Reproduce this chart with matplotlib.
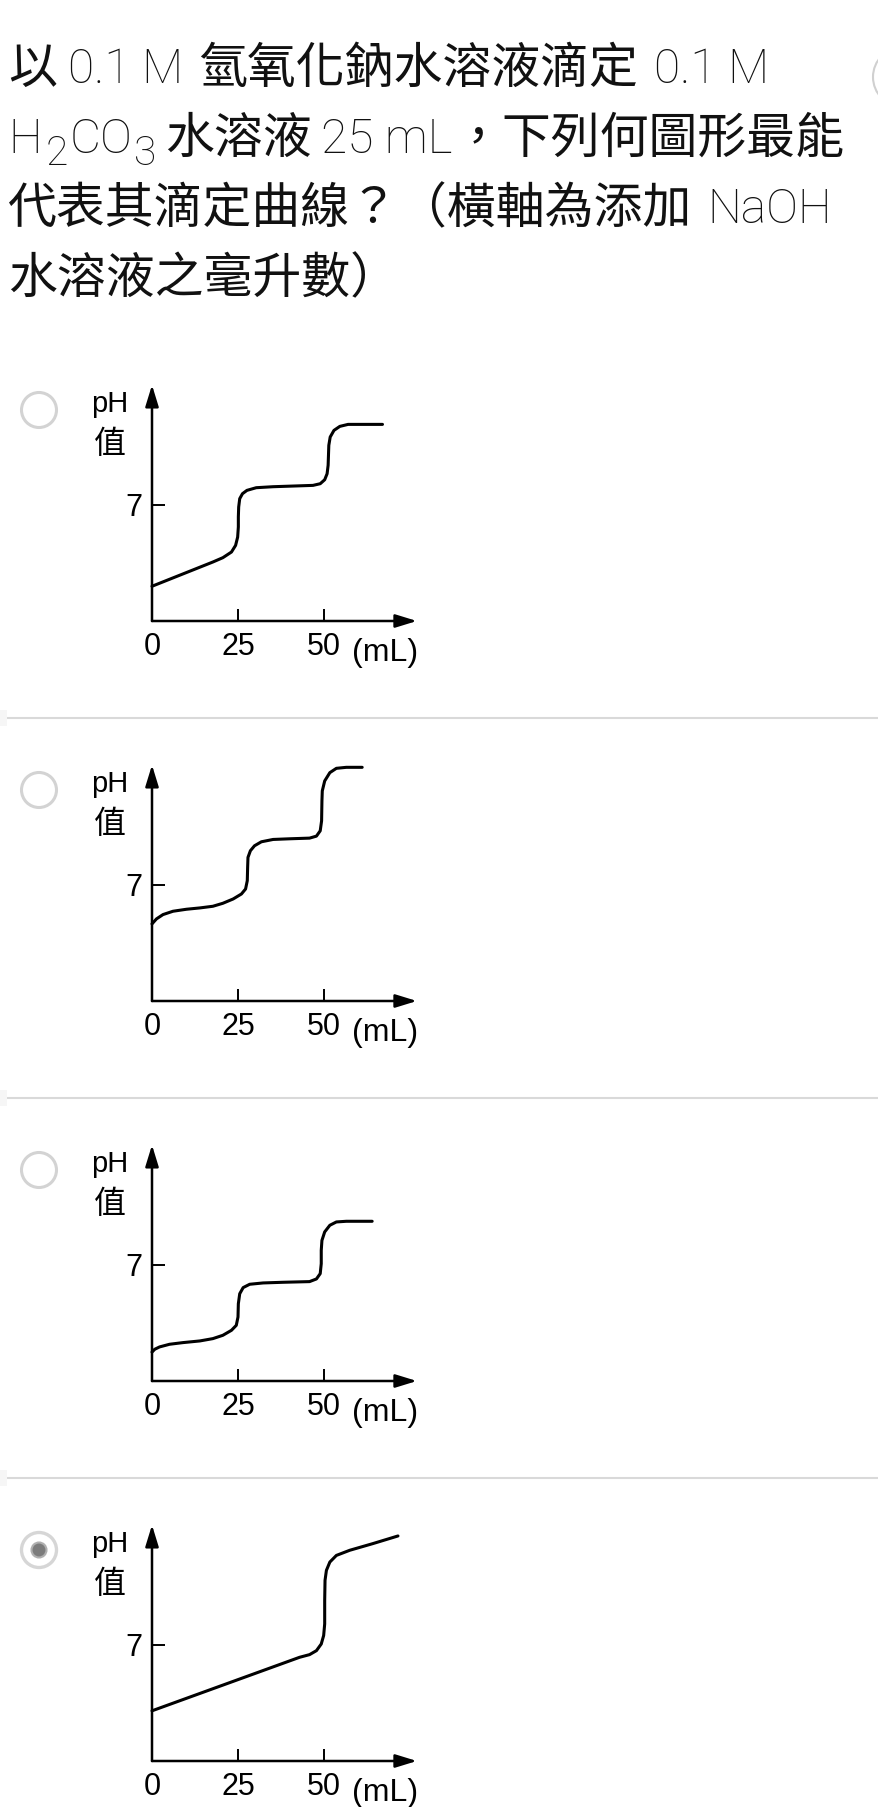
import matplotlib
matplotlib.use('Agg')
import matplotlib.pyplot as plt
from matplotlib.patches import Circle, Rectangle

plt.rcParams['font.family'] = ['Liberation Sans', 'Noto Sans CJK TC', 'DejaVu Sans']

W, H = 879, 1807

# 题干文字：(文字, 类型) 分段，'c'=中文，'l'=拉丁，'s'=下标；数字为段间空隙(px)
TITLE_RUNS = [
    [('以', 'c'), 11, ('0.1 M', 'l'), 15, ('氫氧化鈉水溶液滴定', 'c'), 16, ('0.1 M', 'l')],
    [('H', 'l'), 4, ('2', 's'), 2, ('CO', 'l'), 1, ('3', 's'), 9, ('水溶液', 'c'), 9,
     ('25 mL', 'l'), 2, ('，下列何圖形最能', 'c')],
    [('代表其滴定曲線？（橫軸為添加', 'c'), 15, ('NaOH', 'l')],
    [('水溶液之毫升數）', 'c')],
]
TITLE_BASELINES = [83, 153, 223, 293]

# 四个选项的滴定曲线 (mL, pH)
VOL_A = [0.0, 17.7, 20.6, 23.1, 24.3, 24.9, 25.1, 25.1, 25.2, 25.5, 26.3, 27.6,
         30.3, 35.2, 41.0, 46.8, 48.9, 50.2, 50.9, 51.2, 51.3, 51.4, 51.8, 52.9,
         54.6, 57.0, 60.4, 67.0]
PH_A = [2.09, 3.55, 3.81, 4.15, 4.55, 5.05, 5.66, 6.26, 6.86, 7.36, 7.66, 7.86,
        8.02, 8.08, 8.12, 8.16, 8.26, 8.50, 8.86, 9.37, 9.97, 10.57, 11.07, 11.47,
        11.71, 11.83, 11.83, 11.83]

VOL_B = [0.0, 1.3, 3.2, 6.1, 10.0, 13.9, 17.7, 20.6, 23.6, 26.0, 27.2, 27.7,
         27.8, 27.9, 28.6, 29.8, 31.8, 35.2, 40.0, 45.8, 47.8, 48.9, 49.3, 49.4,
         49.5, 50.2, 51.7, 53.6, 56.5, 61.1]
PH_B = [4.64, 4.94, 5.20, 5.40, 5.52, 5.60, 5.70, 5.88, 6.14, 6.44, 6.74, 7.24,
        8.04, 8.64, 9.04, 9.34, 9.58, 9.72, 9.76, 9.80, 9.92, 10.24, 10.84, 12.04,
        12.64, 13.24, 13.74, 14.00, 14.06, 14.06]

VOL_C = [0.0, 0.8, 2.2, 5.1, 9.0, 13.9, 17.7, 20.6, 23.1, 24.5, 25.0, 25.1,
         25.5, 26.5, 28.4, 32.3, 38.1, 45.8, 47.8, 48.9, 49.2, 49.2, 49.4, 50.2,
         51.7, 53.6, 56.5, 64.0]
PH_C = [1.74, 1.91, 2.05, 2.21, 2.31, 2.41, 2.55, 2.75, 3.05, 3.35, 3.85, 4.65,
        5.25, 5.62, 5.82, 5.90, 5.94, 5.98, 6.14, 6.46, 7.06, 7.86, 8.46, 8.97,
        9.37, 9.57, 9.61, 9.61]

VOL_D = [0.0, 42.9, 45.8, 47.8, 49.2, 49.9, 50.2, 50.2, 50.3, 50.7, 51.7, 53.6,
         57.5, 64.2, 71.5]
PH_D = [3.02, 6.24, 6.40, 6.64, 7.04, 7.55, 8.25, 9.66, 10.87, 11.47, 11.97, 12.37,
        12.68, 13.08, 13.54]

CURVES = [(VOL_A, PH_A), (VOL_B, PH_B), (VOL_C, PH_C), (VOL_D, PH_D)]
SELECTED = 3

X_TICKS = [0, 25, 50]
X_TICK_LABELS = ['0', '25', '50']
Y_TICKS = [7]
Y_TICK_LABELS = ['7']

XMAX, YMAX = 77, 14.2
PX_PER_ML = 3.44
PX_PER_PH = 16.62

fig = plt.figure(figsize=(W / 100, H / 100), dpi=100)
fig.patch.set_facecolor('white')
renderer = fig.canvas.get_renderer()

# 像素坐标的底层画布
bg = fig.add_axes([0, 0, 1, 1])
bg.set_xlim(0, W)
bg.set_ylim(H, 0)
bg.axis('off')

TSIZE = 34.5
TCOL = '#111111'
RUN_STYLE = {
    'c': dict(family=['Noto Sans CJK TC'], size=35.2, weight='normal', dy=0),
    'l': dict(family=['Roboto'], size=TSIZE, weight='light', dy=0),
    's': dict(family=['Roboto'], size=TSIZE * 0.85, weight='light', dy=12),
}


def draw_runs(x, y, runs):
    for item in runs:
        if isinstance(item, (int, float)):
            x += item
            continue
        s, kind = item
        st = RUN_STYLE[kind]
        t = bg.text(x, y + st['dy'], s, family=st['family'], size=st['size'],
                    weight=st['weight'], color=TCOL, va='baseline', ha='left')
        x += t.get_window_extent(renderer=renderer).width


for runs, base in zip(TITLE_RUNS, TITLE_BASELINES):
    draw_runs(8, base, runs)

# 右上角被截断的圆形按钮
bg.add_patch(Circle((903, 77), 30, fill=False, ec='#d0d0d0', lw=1.5))

# 分隔线
for sy in [718, 1098, 1478]:
    bg.plot([7, W], [sy, sy], color='#d9d9d9', lw=1.5, solid_capstyle='butt')
    bg.add_patch(Rectangle((0, sy - 8), 7, 16, fc='#f6f6f6', ec='none'))

arrow_kw = dict(arrowstyle='-|>,head_length=1.3,head_width=0.4', lw=1.8,
                color='black', shrinkA=0, shrinkB=0, mutation_scale=10)

for i, (vx, vy) in enumerate(CURVES):
    oy = 621 + 380 * i

    # 单选按钮
    cy = oy - 211
    if i == SELECTED:
        bg.add_patch(Circle((39, cy), 17.5, fill=False, ec='#d6d6d6', lw=2.4))
        bg.add_patch(Circle((39, cy), 7.5, fc='#7c7c7c', ec='#b0b0b0', lw=1.5))
    else:
        bg.add_patch(Circle((39, cy), 17.5, fill=False, ec='#d3d3d3', lw=2.2))

    ax = fig.add_axes([152 / W, 1 - oy / H, XMAX * PX_PER_ML / W, YMAX * PX_PER_PH / H])
    ax.set_xlim(0, XMAX)
    ax.set_ylim(0, YMAX)
    ax.patch.set_alpha(0)
    for s in ax.spines.values():
        s.set_visible(False)

    ax.annotate('', xy=(0, YMAX), xytext=(0, 0), arrowprops=arrow_kw, annotation_clip=False)
    ax.annotate('', xy=(XMAX, 0), xytext=(0, 0), arrowprops=arrow_kw, annotation_clip=False)

    ax.plot(vx, vy, color='black', lw=2.2, solid_joinstyle='round',
            solid_capstyle='round', clip_on=False)

    ax.set_xticks(X_TICKS, X_TICK_LABELS)
    ax.set_yticks(Y_TICKS, Y_TICK_LABELS)
    ax.tick_params(direction='in', length=9, width=1.4, labelsize=22, color='black')
    ax.tick_params(axis='x', pad=8)
    ax.tick_params(axis='y', pad=7)

    ax.text(58.0, -39.7 / PX_PER_PH, '(mL)', fontsize=23, ha='left', va='baseline',
            clip_on=False)
    ax.text(-12.4, 209 / PX_PER_PH, 'pH', fontsize=21, ha='center', va='baseline',
            clip_on=False)
    ax.text(-12.2, 168 / PX_PER_PH, '值', fontsize=23, ha='center', va='baseline',
            family=['Noto Sans CJK TC'], clip_on=False)

fig.savefig('out.png', dpi=100, facecolor='white')
